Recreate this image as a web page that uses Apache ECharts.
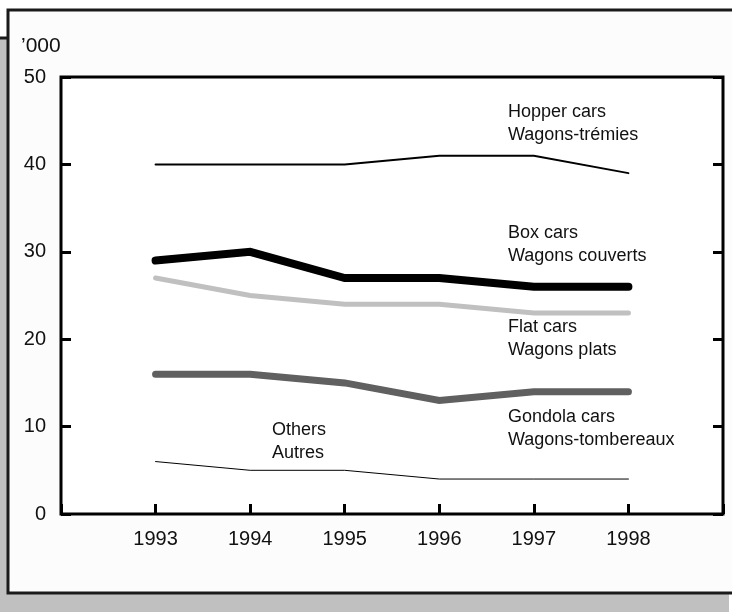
<!DOCTYPE html>
<html>
<head>
<meta charset="utf-8">
<script src="https://cdn.jsdelivr.net/npm/echarts@6/dist/echarts.min.js"></script>
<style>
html,body{margin:0;padding:0;background:#fff;}
#c{width:732px;height:612px;}
</style>
</head>
<body>
<div id="c"></div>
<script>
const years = [1993, 1994, 1995, 1996, 1997, 1998];
const hopperCars = [40, 40, 40, 41, 41, 39];
const boxCars = [29, 30, 27, 27, 26, 26];
const flatCars = [27, 25, 24, 24, 23, 23];
const gondolaCars = [16, 16, 15, 13, 14, 14];
const others = [6, 5, 5, 4, 4, 4];
const yTicks = [0, 10, 20, 30, 40, 50];
const unitLabel = "’000";
const seriesLabels = [
  ["Hopper cars", "Wagons-trémies"],
  ["Box cars", "Wagons couverts"],
  ["Flat cars", "Wagons plats"],
  ["Gondola cars", "Wagons-tombereaux"],
  ["Others", "Autres"]
];

const FONT = "'Liberation Sans', Arial, sans-serif";
const TXT = '#111111';
const pair = arr => arr.map((v, i) => [years[i], v]);

const chart = echarts.init(document.getElementById('c'), null, {renderer: 'canvas'});

function lineSeries(name, data, color, width, z) {
  return {
    name: name, type: 'line', data: pair(data), symbol: 'none', z: z,
    lineStyle: {color: color, width: width, cap: 'round', join: 'miter'},
    animation: false
  };
}

function textEl(lines, x, y) {
  return {
    type: 'text', left: x, top: y, z: 100,
    style: {text: lines.join('\n'), font: '18px ' + FONT, fill: TXT, lineHeight: 23}
  };
}

chart.setOption({
  animation: false,
  backgroundColor: '#ffffff',
  graphic: [
    {type: 'rect', z: -10, shape: {x: 0, y: 38, width: 729, height: 580}, style: {fill: '#c0c0c0'}},
    {type: 'line', z: -9, shape: {x1: 0, y1: 38, x2: 729, y2: 38}, style: {stroke: '#1a1a1a', lineWidth: 3}},
    {type: 'rect', z: -8, shape: {x: 8, y: 10, width: 740, height: 583}, style: {fill: '#fcfcfc', stroke: '#1a1a1a', lineWidth: 3}},
    {type: 'text', left: 21, top: 36, z: 100, style: {text: unitLabel, font: '21px ' + FONT, fill: TXT}},
    textEl(seriesLabels[0], 508, 101),
    textEl(seriesLabels[1], 508, 222),
    textEl(seriesLabels[2], 508, 316),
    textEl(seriesLabels[3], 508, 406),
    textEl(seriesLabels[4], 272, 419)
  ],
  grid: {
    left: 61, right: 9, top: 77, bottom: 98,
    show: true, backgroundColor: '#ffffff', borderColor: '#000000', borderWidth: 3
  },
  xAxis: {
    type: 'value', min: 1992, max: 1999, interval: 1,
    axisLine: {show: false},
    splitLine: {show: false},
    axisTick: {show: true, inside: true, length: 10, lineStyle: {color: '#000', width: 3}},
    axisLabel: {
      margin: 15, fontSize: 20, fontFamily: FONT, color: TXT,
      formatter: v => years.indexOf(v) >= 0 ? String(v) : ''
    }
  },
  yAxis: [
    {
      type: 'value', min: 0, max: 50, interval: 10,
      axisLine: {show: false},
      splitLine: {show: false},
      axisTick: {show: true, inside: true, length: 10, lineStyle: {color: '#000', width: 3}},
      axisLabel: {margin: 15, fontSize: 20, fontFamily: FONT, color: TXT, padding: [4, 0, 0, 0],
        formatter: v => yTicks.indexOf(v) >= 0 ? String(v) : ''}
    },
    {
      type: 'value', min: 0, max: 50, interval: 10, position: 'right',
      axisLine: {show: false},
      splitLine: {show: false},
      axisTick: {show: true, inside: true, length: 10, lineStyle: {color: '#000', width: 3}},
      axisLabel: {show: false}
    }
  ],
  series: [
    lineSeries('Hopper cars', hopperCars, '#000000', 2, 5),
    lineSeries('Box cars', boxCars, '#000000', 8, 6),
    lineSeries('Flat cars', flatCars, '#c0c0c0', 5, 4),
    lineSeries('Gondola cars', gondolaCars, '#606060', 7, 4),
    lineSeries('Others', others, '#000000', 1, 5)
  ]
});
</script>
</body>
</html>
